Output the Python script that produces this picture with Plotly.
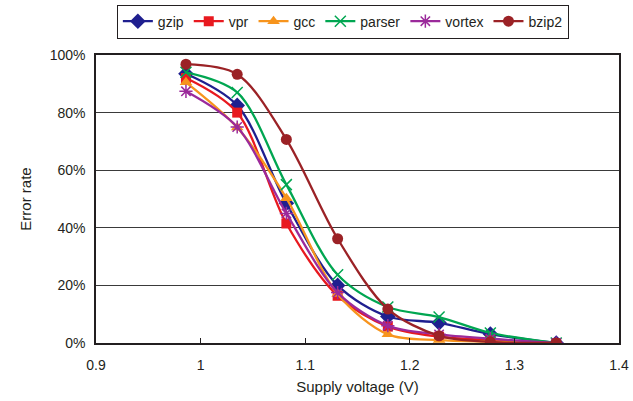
import plotly.graph_objects as go

voltage = [0.986, 1.035, 1.082, 1.131, 1.179, 1.228, 1.277, 1.340]
gzip = [93.5, 82.5, 48.5, 20.0, 9.2, 7.0, 3.1, 0.0]
vpr = [92.0, 80.0, 41.5, 16.4, 5.7, 2.2, 1.0, 0.0]
gcc = [90.5, 74.8, 50.3, 17.0, 3.0, 1.0, 0.5, 0.0]
parser = [94.0, 87.0, 55.0, 23.7, 12.5, 9.0, 3.5, 0.0]
vortex = [87.4, 75.0, 45.0, 17.5, 6.0, 3.0, 1.5, 0.0]
bzip2 = [96.8, 93.3, 70.7, 36.2, 11.8, 2.5, 0.4, 0.0]

series = [
    ("gzip", gzip, "#1f1f8f", "diamond", 12),
    ("vpr", vpr, "#e8191f", "square", 10),
    ("gcc", gcc, "#f7941d", "triangle-up", 11),
    ("parser", parser, "#00a651", "x-thin", 11),
    ("vortex", vortex, "#9b2a9b", "asterisk", 11),
    ("bzip2", bzip2, "#9b2226", "circle", 11),
]

fig = go.Figure()
for name, vals, color, sym, size in series:
    thin = sym in ("x-thin", "asterisk")
    fig.add_trace(go.Scatter(
        x=voltage, y=[v / 100 for v in vals], name=name, mode="lines+markers",
        line=dict(color=color, width=2.3, shape="spline", smoothing=0.9),
        marker=dict(symbol=sym, size=size, color=color,
                    line=dict(color=color, width=1.5 if thin else 0)),
    ))

font = "Liberation Sans, Arial, sans-serif"
fig.update_layout(
    width=633, height=401,
    margin=dict(l=96, r=14, t=55, b=58, autoexpand=False),
    paper_bgcolor="white", plot_bgcolor="white",
    font=dict(family=font, size=14, color="#231f20"),
    showlegend=True,
    legend=dict(orientation="h", x=0.472, xanchor="center", y=1.175, yanchor="top",
                bordercolor="#231f20", borderwidth=1, font=dict(size=14),
                itemwidth=30, tracegroupgap=0, traceorder="normal"),
    xaxis=dict(range=[0.9, 1.4], dtick=0.1, tick0=0.9, showgrid=False,
               showline=True, linecolor="#231f20", linewidth=1.5, mirror=True,
               ticks="inside", ticklen=5, tickcolor="#231f20", ticklabelstandoff=8,
               title=dict(text="Supply voltage (V)", font=dict(size=15), standoff=10),
               zeroline=False, automargin=False),
    yaxis=dict(range=[0, 1.0], dtick=0.2, tickformat=".0%", showgrid=True,
               gridcolor="#3a3a3a", gridwidth=1, showline=True, linecolor="#231f20",
               linewidth=1.5, mirror=True, ticks="", zeroline=False, ticklabelstandoff=6,
               automargin=False,
               title=dict(text="Error rate", font=dict(size=15), standoff=14)),
)

fig.write_html("out.html")
